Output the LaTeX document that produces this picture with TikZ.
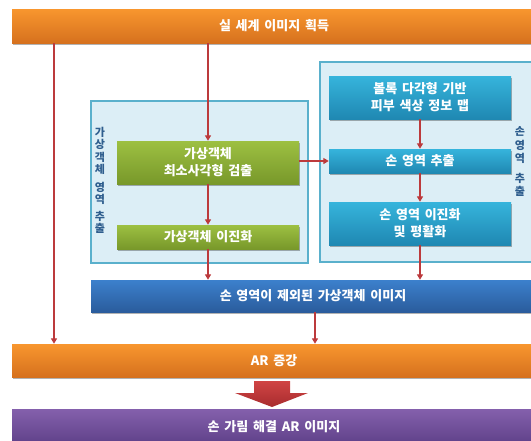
\documentclass[tikz,border=0pt]{standalone}
\usepackage{fontspec}
\setmainfont{Noto Sans CJK KR}[WordSpace=1.6]
\usetikzlibrary{arrows.meta,shadows}
\definecolor{orTop}{HTML}{F8962E}
\definecolor{orBot}{HTML}{D6711E}
\definecolor{grTop}{HTML}{9DC042}
\definecolor{grBot}{HTML}{78982A}
\definecolor{cyTop}{HTML}{36B4DC}
\definecolor{cyBot}{HTML}{1F88B2}
\definecolor{bbTop}{HTML}{3C80CC}
\definecolor{bbBot}{HTML}{2A5C9C}
\definecolor{puTop}{HTML}{8460AC}
\definecolor{puBot}{HTML}{5E4088}
\definecolor{contFill}{HTML}{DCEEF6}
\definecolor{contLine}{HTML}{5AB0CC}
\definecolor{arrRed}{HTML}{BC3A3C}
\definecolor{vtext}{HTML}{2F5E8E}
\definecolor{bigTop}{HTML}{D04444}
\definecolor{bigBot}{HTML}{A82C2E}
\tikzset{
  box/.style={inner sep=0pt, align=center, text=white, font=\fontsize{13}{17}\selectfont\bfseries,
    drop shadow={shadow xshift=1pt, shadow yshift=-1.5pt, opacity=0.3, fill=black}},
  orangebar/.style={box, top color=orTop, bottom color=orBot},
  greenbox/.style={box, top color=grTop, bottom color=grBot, minimum width=182pt},
  cyanbox/.style={box, top color=cyTop, bottom color=cyBot, minimum width=182pt},
  bluebar/.style={box, top color=bbTop, bottom color=bbBot},
  purplebar/.style={box, top color=puTop, bottom color=puBot},
  container/.style={draw=contLine, line width=1.2pt, fill=contFill, inner sep=0pt},
  vlabel/.style={text=vtext, align=center, font=\fontsize{11}{12.5}\selectfont\bfseries, inner sep=0pt},
  arr/.style={draw=arrRed, line width=1.5pt, -{Triangle[width=6pt,length=5.5pt]}},
}
\begin{document}
\begin{tikzpicture}[x=1pt,y=-1pt]
\useasboundingbox (0,0) rectangle (531,440);
\clip (0,0) rectangle (531,440);
% containers
\node[container, minimum width=217pt, minimum height=162pt] (lc) at (199.5,182) {};
\node[container, minimum width=225pt, minimum height=200pt] (rc) at (432.5,162) {};
% bars
\node[orangebar, minimum width=524pt, minimum height=34pt] (top) at (274,26) {실 세계 이미지 획득};
\node[bluebar, minimum width=444pt, minimum height=32pt] (mid) at (313,296) {손 영역이 제외된 가상객체 이미지};
\node[orangebar, minimum width=524pt, minimum height=33pt] (ar) at (274,360.5) {AR 증강};
\node[purplebar, minimum width=524pt, minimum height=36pt] (res) at (274,427) {손 가림 해결 AR 이미지};
% green boxes
\node[greenbox, minimum height=43pt] (g1) at (208,162.5) {가상객체\\최소사각형 검출};
\node[greenbox, minimum height=24pt] (g2) at (208,237) {가상객체 이진화};
% cyan boxes
\node[cyanbox, minimum height=43pt] (b1) at (420,97.5) {볼록 다각형 기반\\피부 색상 정보 맵};
\node[cyanbox, minimum height=24pt] (b2) at (420,161) {손 영역 추출};
\node[cyanbox, minimum height=43pt] (b3) at (420,223.5) {손 영역 이진화\\및 평활화};
% vertical labels
\node[vlabel] (vl) at (100,180.5) {가\\상\\객\\체\\[5pt]영\\역\\[4pt]추\\출};
\node[vlabel] (vr) at (520,161.5) {손\\[2pt]영\\역\\[8pt]추\\출};
% connectors
\coordinate (lx) at (54,0);
\coordinate (cx) at (315,0);
\draw[arr] (top.south -| lx) -- (ar.north -| lx);
\draw[arr] (top.south -| g1.north) -- (g1.north);
\draw[arr] (g1.south) -- (g2.north);
\draw[arr] (g2.south) -- (g2.south |- mid.north);
\draw[arr] (g1.east |- b2.west) -- (b2.west);
\draw[arr] (b1.south) -- (b2.north);
\draw[arr] (b2.south) -- (b3.north);
\draw[arr] (b3.south) -- (b3.south |- mid.north);
\draw[arr] (mid.south -| cx) -- (ar.north -| cx);
% big arrow
\path[top color=bigTop, bottom color=bigBot]
  (254,381) -- (290,381) -- (290,393) -- (308,393) -- (272,407) -- (235,393) -- (254,393) -- cycle;
\end{tikzpicture}
\end{document}
